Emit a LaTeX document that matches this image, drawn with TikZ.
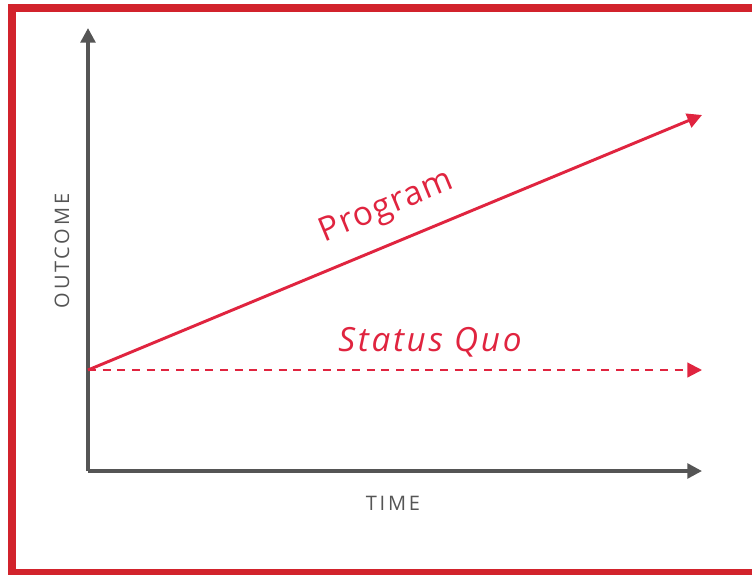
\documentclass[tikz,border=0pt]{standalone}
\usepackage{fontspec}
\setmainfont{Open Sans}
\usetikzlibrary{arrows.meta}
\definecolor{frame}{HTML}{D2232C}
\definecolor{prog}{HTML}{E0243F}
\definecolor{axis}{HTML}{555555}
\begin{document}
\begin{tikzpicture}[x=0.75pt,y=-0.75pt,
  axisline/.style={draw=axis,line width=2.6pt,-{Triangle[length=11pt,width=11pt]}},
  progline/.style={draw=prog,line width=2.2pt,-{Triangle[length=11pt,width=11pt]}},
  quoline/.style={draw=prog,line width=1.6pt,dash pattern=on 6pt off 5pt,-{Triangle[length=11pt,width=11pt]}},
  axlabel/.style={text=axis,font=\fontsize{15}{15}\selectfont\addfontfeatures{LetterSpace=14}},
  redlabel/.style={text=prog,anchor=base}]
\useasboundingbox (0,0) rectangle (752,575);
\fill[white] (0,0) rectangle (752,575);
% frame
\fill[frame] (8,4) rectangle (752,12);
\fill[frame] (8,4) rectangle (16,575);
\fill[frame] (8,569) rectangle (752,575);
% axes
\coordinate (o) at (88,471);
\coordinate (ytop) at (88,28);
\coordinate (xend) at (702,471);
\coordinate (s) at (88,370);
\coordinate (pend) at (702,115);
\coordinate (qend) at (702,370);
\draw[axisline] (o) -- (ytop);
\draw[axisline] (o) -- (xend);
\draw[quoline] (s) -- (qend);
\draw[progline] (s) -- (pend);
\node[axlabel,rotate=90] (outcome) at (62,251) {OUTCOME};
\node[axlabel] (time) at (393,503) {TIME};
\node[redlabel,rotate=22.5,font=\fontsize{25}{25}\selectfont\addfontfeatures{LetterSpace=4}] (program) at (390,215) {Program};
\node[redlabel,font=\fontsize{25}{25}\selectfont\itshape\addfontfeatures{LetterSpace=8}] (quo) at (430,351) {Status Quo};
\end{tikzpicture}
\end{document}
